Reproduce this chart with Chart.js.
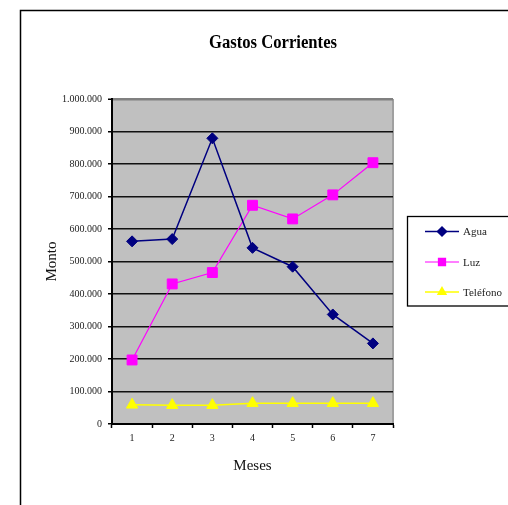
<!DOCTYPE html>
<html>
<head>
<meta charset="utf-8">
<script src="https://cdn.jsdelivr.net/npm/chart.js@4/dist/chart.umd.min.js"></script>
<style>
  body { margin: 0; background: #fff; }
  canvas { display: block; }
</style>
</head>
<body>
<canvas id="myChart" width="508" height="505"></canvas>
<script>
const meses = ['1', '2', '3', '4', '5', '6', '7'];
const agua = [562000, 569000, 879000, 542000, 484000, 337000, 248000];
const luz = [197000, 431000, 466000, 673000, 631000, 705000, 804000];
const telefono = [59000, 58000, 58000, 64000, 64000, 64000, 64000];
const yTicks = [0, 100000, 200000, 300000, 400000, 500000, 600000, 700000, 800000, 900000, 1000000];

const serif = '"Liberation Serif", "Times New Roman", serif';
Chart.defaults.font.family = serif;
Chart.defaults.color = '#222';

function miles(v) {
    return String(v).replace(/\B(?=(\d{3})+(?!\d))/g, '.');
}

function marker(ctx, style, color, x, y, r) {
    ctx.fillStyle = color;
    ctx.strokeStyle = color;
    if (Chart.helpers && Chart.helpers.drawPoint) {
        Chart.helpers.drawPoint(ctx, {pointStyle: style, radius: r, rotation: 0, borderWidth: 1}, x, y);
        return;
    }
    ctx.beginPath();
    if (style === 'rect') {
        ctx.rect(x - r * 0.7, y - r * 0.7, r * 1.4, r * 1.4);
    } else if (style === 'triangle') {
        ctx.moveTo(x, y - r);
        ctx.lineTo(x + r * 0.87, y + r * 0.5);
        ctx.lineTo(x - r * 0.87, y + r * 0.5);
    } else {
        ctx.moveTo(x, y - r); ctx.lineTo(x + r, y); ctx.lineTo(x, y + r); ctx.lineTo(x - r, y);
    }
    ctx.closePath();
    ctx.fill();
}

const fondo = {
    id: 'fondo',
    beforeDraw(chart) {
        const {ctx, chartArea: a} = chart;
        ctx.save();
        ctx.fillStyle = '#fff';
        ctx.fillRect(0, 0, chart.width, chart.height);
        ctx.strokeStyle = '#000';
        ctx.lineWidth = 1.5;
        ctx.strokeRect(20.5, 10.5, 700, 700);
        ctx.fillStyle = '#c0c0c0';
        ctx.fillRect(a.left, a.top, a.right - a.left, a.bottom - a.top);
        ctx.strokeStyle = '#a0a0a0';
        ctx.lineWidth = 2;
        ctx.beginPath();
        ctx.moveTo(a.right, a.top);
        ctx.lineTo(a.right, a.bottom);
        ctx.stroke();
        ctx.restore();
    },
    afterDraw(chart) {
        const {ctx} = chart;
        ctx.save();
        // titulo
        ctx.fillStyle = '#000';
        ctx.font = 'bold 18px ' + serif;
        ctx.textAlign = 'center';
        ctx.textBaseline = 'middle';
        ctx.fillText('Gastos Corrientes', 273, 43, 128);
        // leyenda
        ctx.fillStyle = '#fff';
        ctx.fillRect(407, 216, 200, 90);
        ctx.strokeStyle = '#000';
        ctx.lineWidth = 1.3;
        ctx.strokeRect(407.5, 216.5, 200, 89.5);
        const ys = [231.5, 262, 292];
        chart.data.datasets.forEach((ds, i) => {
            const y = ys[i];
            ctx.strokeStyle = ds.borderColor;
            ctx.lineWidth = ds.borderWidth;
            ctx.beginPath();
            ctx.moveTo(425, y);
            ctx.lineTo(459, y);
            ctx.stroke();
            marker(ctx, ds.pointStyle, ds.pointBackgroundColor, 442, y, ds.pointStyle === 'rect' ? 5 : 4.5);
            ctx.fillStyle = '#222';
            ctx.font = '11px ' + serif;
            ctx.textAlign = 'left';
            ctx.textBaseline = 'middle';
            ctx.fillText(ds.label, 463, y + 1);
        });
        ctx.restore();
    }
};

const config = {
    type: 'line',
    data: {
        labels: meses,
        datasets: [{
            label: 'Agua',
            data: agua,
            borderColor: '#000080',
            backgroundColor: '#000080',
            pointBackgroundColor: '#000080',
            pointBorderColor: '#000080',
            borderWidth: 1.5,
            pointStyle: 'rectRot',
            pointRadius: 5.5,
            pointBorderWidth: 1
        }, {
            label: 'Luz',
            data: luz,
            borderColor: '#ff00ff',
            backgroundColor: '#ff00ff',
            pointBackgroundColor: '#ff00ff',
            pointBorderColor: '#ff00ff',
            borderWidth: 1.2,
            pointStyle: 'rect',
            pointRadius: 7,
            pointBorderWidth: 1
        }, {
            label: 'Teléfono',
            data: telefono,
            borderColor: '#ffff00',
            backgroundColor: '#ffff00',
            pointBackgroundColor: '#ffff00',
            pointBorderColor: '#ffff00',
            borderWidth: 1.5,
            pointStyle: 'triangle',
            pointRadius: 6.5,
            pointBorderWidth: 1
        }]
    },
    options: {
        responsive: false,
        animation: false,
        events: [],
        layout: {padding: {top: 99, right: 115, left: 0, bottom: 0}},
        elements: {line: {tension: 0}},
        plugins: {
            legend: {display: false},
            title: {display: false},
            tooltip: {enabled: false}
        },
        scales: {
            x: {
                offset: true,
                afterFit: s => { s.height = 81; },
                grid: {
                    offset: true,
                    drawOnChartArea: false,
                    drawTicks: true,
                    tickLength: 4,
                    tickColor: '#000',
                    tickWidth: 1.5
                },
                border: {color: '#000', width: 2},
                ticks: {font: {size: 10}, padding: 4, color: '#222'},
                title: {
                    display: true,
                    text: 'Meses',
                    font: {size: 15},
                    color: '#111',
                    padding: {top: 0, bottom: 30}
                }
            },
            y: {
                min: 0,
                max: 1000000,
                afterFit: s => { s.width = 112; },
                afterBuildTicks: s => { s.ticks = yTicks.map(v => ({value: v})); },
                grid: {
                    color: c => c.tick && c.tick.value === 1000000 ? '#808080' : '#111',
                    lineWidth: c => c.tick && c.tick.value === 1000000 ? 2.5 : 1.5,
                    tickLength: 4,
                    tickColor: '#000',
                    tickWidth: 1.5
                },
                border: {color: '#000', width: 2},
                ticks: {
                    font: {size: 10},
                    padding: 6,
                    color: '#222',
                    callback: v => miles(v)
                },
                title: {
                    display: true,
                    text: 'Monto',
                    font: {size: 15},
                    color: '#111',
                    padding: {top: 43, bottom: 0}
                }
            }
        }
    },
    plugins: [fondo]
};

const myChart = new Chart(document.getElementById('myChart').getContext('2d'), config);
</script>
</body>
</html>
